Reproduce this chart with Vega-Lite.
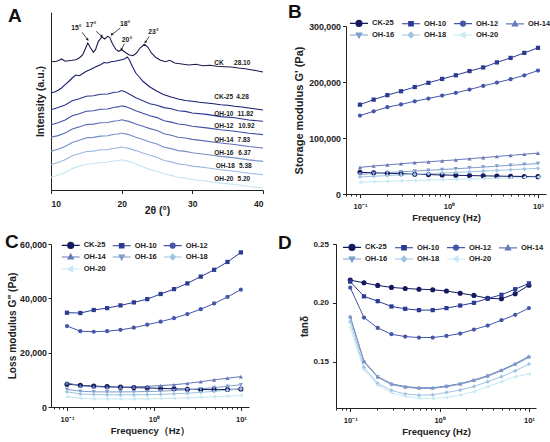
{
  "$schema": "https://vega.github.io/schema/vega-lite/v6.json",
  "padding": {"left": 5, "top": 2, "right": 2, "bottom": 2},
  "config": {
    "font": "Liberation Sans",
    "view": {"stroke": null},
    "axis": {
      "grid": false,
      "domainColor": "#222222",
      "domainWidth": 1,
      "tickColor": "#222222",
      "tickWidth": 1,
      "labelFont": "Liberation Sans",
      "labelFontWeight": "bold",
      "labelColor": "#222222",
      "labelFontSize": 8.8,
      "titleFont": "Liberation Sans",
      "titleFontWeight": "bold",
      "titleColor": "#222222",
      "titleFontSize": 10
    },
    "legend": {
      "labelFont": "Liberation Sans",
      "labelFontWeight": "bold",
      "labelFontSize": 7.5,
      "labelColor": "#222222",
      "symbolSize": 100,
      "symbolStrokeWidth": 1.1,
      "labelOffset": 7,
      "columnPadding": 4,
      "rowPadding": 0
    },
    "title": {"font": "Liberation Sans", "fontSize": 19, "fontWeight": "bold", "color": "#111111", "anchor": "start", "frame": "group", "baseline": "bottom"}
  },
  "datasets": {
    "xrd": [
      {"s":"CK","t":10,"i":128.7},{"s":"CK","t":10.5,"i":128.3},{"s":"CK","t":11,"i":129.3},{"s":"CK","t":11.5,"i":131},{"s":"CK","t":12,"i":128.7},{"s":"CK","t":12.5,"i":129.2},{"s":"CK","t":13,"i":129.7},{"s":"CK","t":13.5,"i":130.3},{"s":"CK","t":14,"i":132},{"s":"CK","t":14.5,"i":135.3},{"s":"CK","t":14.8,"i":140.3},{"s":"CK","t":15.2,"i":147},{"s":"CK","t":15.6,"i":142},{"s":"CK","t":16,"i":137.7},{"s":"CK","t":16.3,"i":140.3},{"s":"CK","t":16.7,"i":148.7},{"s":"CK","t":17.2,"i":153},{"s":"CK","t":17.6,"i":151},{"s":"CK","t":18,"i":153.7},{"s":"CK","t":18.3,"i":152.7},{"s":"CK","t":18.7,"i":146.3},{"s":"CK","t":19.2,"i":140.3},{"s":"CK","t":19.6,"i":138.7},{"s":"CK","t":20,"i":140.3},{"s":"CK","t":20.4,"i":138.3},{"s":"CK","t":21,"i":135.3},{"s":"CK","t":21.6,"i":134.3},{"s":"CK","t":22.1,"i":137},{"s":"CK","t":22.6,"i":142},{"s":"CK","t":23.2,"i":145.7},{"s":"CK","t":23.7,"i":143},{"s":"CK","t":24.2,"i":137},{"s":"CK","t":24.8,"i":132.7},{"s":"CK","t":25.5,"i":129.7},{"s":"CK","t":26.2,"i":128.3},{"s":"CK","t":26.8,"i":129.7},{"s":"CK","t":27.5,"i":127},{"s":"CK","t":28.5,"i":126},{"s":"CK","t":29.5,"i":125},{"s":"CK","t":30.5,"i":125.7},{"s":"CK","t":31.5,"i":124.3},{"s":"CK","t":32.5,"i":124.7},{"s":"CK","t":33.5,"i":123.7},{"s":"CK","t":34.5,"i":123.3},{"s":"CK","t":35.5,"i":123},{"s":"CK","t":36.5,"i":122},{"s":"CK","t":37.5,"i":121.3},{"s":"CK","t":38.5,"i":120},{"s":"CK","t":39.5,"i":118.7},{"s":"CK","t":40,"i":118},
      {"s":"CK-25","t":10,"i":97},{"s":"CK-25","t":10.5,"i":98},{"s":"CK-25","t":11,"i":99.7},{"s":"CK-25","t":11.5,"i":102},{"s":"CK-25","t":12,"i":105.3},{"s":"CK-25","t":12.5,"i":108.5},{"s":"CK-25","t":13,"i":112},{"s":"CK-25","t":13.5,"i":115},{"s":"CK-25","t":14,"i":114.3},{"s":"CK-25","t":14.5,"i":116.5},{"s":"CK-25","t":15,"i":118.7},{"s":"CK-25","t":15.5,"i":120.3},{"s":"CK-25","t":16,"i":122},{"s":"CK-25","t":16.5,"i":123.7},{"s":"CK-25","t":17,"i":125.3},{"s":"CK-25","t":17.5,"i":127.5},{"s":"CK-25","t":18,"i":127},{"s":"CK-25","t":18.5,"i":128.3},{"s":"CK-25","t":19,"i":128.7},{"s":"CK-25","t":19.5,"i":129.5},{"s":"CK-25","t":20,"i":130.3},{"s":"CK-25","t":20.4,"i":131},{"s":"CK-25","t":20.8,"i":133},{"s":"CK-25","t":21.1,"i":130},{"s":"CK-25","t":21.5,"i":123.7},{"s":"CK-25","t":22,"i":117},{"s":"CK-25","t":22.5,"i":113},{"s":"CK-25","t":23,"i":108.7},{"s":"CK-25","t":24,"i":103},{"s":"CK-25","t":25,"i":98.7},{"s":"CK-25","t":26,"i":95.3},{"s":"CK-25","t":27,"i":93},{"s":"CK-25","t":28,"i":91},{"s":"CK-25","t":29,"i":89.5},{"s":"CK-25","t":30,"i":88.7},{"s":"CK-25","t":31,"i":87.7},{"s":"CK-25","t":32,"i":87},{"s":"CK-25","t":33,"i":86.3},{"s":"CK-25","t":34,"i":85.3},{"s":"CK-25","t":35,"i":84.7},{"s":"CK-25","t":36,"i":83.7},{"s":"CK-25","t":37,"i":83},{"s":"CK-25","t":38,"i":82},{"s":"CK-25","t":39,"i":81},{"s":"CK-25","t":40,"i":80},
      {"s":"OH-10","t":10,"i":80.3},{"s":"OH-10","t":11,"i":82.4},{"s":"OH-10","t":12,"i":85},{"s":"OH-10","t":13,"i":89.3},{"s":"OH-10","t":14,"i":91.2},{"s":"OH-10","t":15,"i":93.8},{"s":"OH-10","t":16,"i":94.2},{"s":"OH-10","t":17,"i":95.8},{"s":"OH-10","t":18,"i":96},{"s":"OH-10","t":19,"i":97.8},{"s":"OH-10","t":19.5,"i":98},{"s":"OH-10","t":20,"i":99.5},{"s":"OH-10","t":20.5,"i":98.2},{"s":"OH-10","t":21,"i":96.3},{"s":"OH-10","t":22,"i":92.2},{"s":"OH-10","t":23,"i":89.3},{"s":"OH-10","t":24,"i":86.2},{"s":"OH-10","t":25,"i":84.8},{"s":"OH-10","t":26,"i":82.4},{"s":"OH-10","t":27,"i":81.3},{"s":"OH-10","t":28,"i":79.2},{"s":"OH-10","t":29,"i":78.6},{"s":"OH-10","t":30,"i":77},{"s":"OH-10","t":32,"i":75.6},{"s":"OH-10","t":34,"i":73.4},{"s":"OH-10","t":36,"i":72.3},{"s":"OH-10","t":38,"i":70},{"s":"OH-10","t":40,"i":68.7},
      {"s":"OH-12","t":10,"i":65.3},{"s":"OH-12","t":11,"i":67.3},{"s":"OH-12","t":12,"i":70},{"s":"OH-12","t":13,"i":74.2},{"s":"OH-12","t":14,"i":76.3},{"s":"OH-12","t":15,"i":78.8},{"s":"OH-12","t":16,"i":79.2},{"s":"OH-12","t":17,"i":80.8},{"s":"OH-12","t":18,"i":81},{"s":"OH-12","t":19,"i":82.7},{"s":"OH-12","t":19.5,"i":83.1},{"s":"OH-12","t":20,"i":84.3},{"s":"OH-12","t":20.5,"i":83.4},{"s":"OH-12","t":21,"i":82.2},{"s":"OH-12","t":22,"i":79.3},{"s":"OH-12","t":23,"i":76.7},{"s":"OH-12","t":24,"i":74.3},{"s":"OH-12","t":25,"i":72.4},{"s":"OH-12","t":26,"i":69.2},{"s":"OH-12","t":27,"i":67.9},{"s":"OH-12","t":28,"i":66},{"s":"OH-12","t":29,"i":65.2},{"s":"OH-12","t":30,"i":63.8},{"s":"OH-12","t":32,"i":62.1},{"s":"OH-12","t":34,"i":60.2},{"s":"OH-12","t":36,"i":58.8},{"s":"OH-12","t":38,"i":56.8},{"s":"OH-12","t":40,"i":55.4},
      {"s":"OH-14","t":10,"i":52.7},{"s":"OH-14","t":11,"i":54.4},{"s":"OH-14","t":12,"i":57},{"s":"OH-14","t":13,"i":61},{"s":"OH-14","t":14,"i":63.1},{"s":"OH-14","t":15,"i":65.4},{"s":"OH-14","t":16,"i":65.9},{"s":"OH-14","t":17,"i":67.2},{"s":"OH-14","t":18,"i":67.5},{"s":"OH-14","t":19,"i":69},{"s":"OH-14","t":19.5,"i":69.3},{"s":"OH-14","t":20,"i":70.3},{"s":"OH-14","t":20.5,"i":69.4},{"s":"OH-14","t":21,"i":68.6},{"s":"OH-14","t":22,"i":66.1},{"s":"OH-14","t":23,"i":63.7},{"s":"OH-14","t":24,"i":61.4},{"s":"OH-14","t":25,"i":59.5},{"s":"OH-14","t":26,"i":56.2},{"s":"OH-14","t":27,"i":54.8},{"s":"OH-14","t":28,"i":52.8},{"s":"OH-14","t":29,"i":52},{"s":"OH-14","t":30,"i":50.6},{"s":"OH-14","t":32,"i":48.9},{"s":"OH-14","t":34,"i":47},{"s":"OH-14","t":36,"i":45.5},{"s":"OH-14","t":38,"i":43.5},{"s":"OH-14","t":40,"i":42},
      {"s":"OH-16","t":10,"i":38.7},{"s":"OH-16","t":11,"i":40.8},{"s":"OH-16","t":12,"i":43.6},{"s":"OH-16","t":13,"i":47.6},{"s":"OH-16","t":14,"i":49.8},{"s":"OH-16","t":15,"i":52.1},{"s":"OH-16","t":16,"i":52.6},{"s":"OH-16","t":17,"i":53.9},{"s":"OH-16","t":18,"i":54.2},{"s":"OH-16","t":19,"i":55.7},{"s":"OH-16","t":19.5,"i":56},{"s":"OH-16","t":20,"i":57},{"s":"OH-16","t":20.5,"i":56.1},{"s":"OH-16","t":21,"i":55.4},{"s":"OH-16","t":22,"i":52.8},{"s":"OH-16","t":23,"i":50.4},{"s":"OH-16","t":24,"i":48},{"s":"OH-16","t":25,"i":46.1},{"s":"OH-16","t":26,"i":42.8},{"s":"OH-16","t":27,"i":41.4},{"s":"OH-16","t":28,"i":39.4},{"s":"OH-16","t":29,"i":38.6},{"s":"OH-16","t":30,"i":37.2},{"s":"OH-16","t":32,"i":35.5},{"s":"OH-16","t":34,"i":33.6},{"s":"OH-16","t":36,"i":32.1},{"s":"OH-16","t":38,"i":30.1},{"s":"OH-16","t":40,"i":28.6},
      {"s":"OH-18","t":10,"i":25.3},{"s":"OH-18","t":11,"i":27.4},{"s":"OH-18","t":12,"i":30.2},{"s":"OH-18","t":13,"i":34.2},{"s":"OH-18","t":14,"i":36.3},{"s":"OH-18","t":15,"i":38.5},{"s":"OH-18","t":16,"i":38.9},{"s":"OH-18","t":17,"i":40.2},{"s":"OH-18","t":18,"i":40.4},{"s":"OH-18","t":19,"i":41.8},{"s":"OH-18","t":19.5,"i":42.1},{"s":"OH-18","t":20,"i":43},{"s":"OH-18","t":20.5,"i":42.2},{"s":"OH-18","t":21,"i":41.6},{"s":"OH-18","t":22,"i":39.4},{"s":"OH-18","t":23,"i":37},{"s":"OH-18","t":24,"i":34.7},{"s":"OH-18","t":25,"i":32.8},{"s":"OH-18","t":26,"i":29.5},{"s":"OH-18","t":27,"i":28.1},{"s":"OH-18","t":28,"i":26.1},{"s":"OH-18","t":29,"i":25.3},{"s":"OH-18","t":30,"i":23.9},{"s":"OH-18","t":32,"i":22.2},{"s":"OH-18","t":34,"i":20.3},{"s":"OH-18","t":36,"i":18.8},{"s":"OH-18","t":38,"i":16.8},{"s":"OH-18","t":40,"i":15.3},
      {"s":"OH-20","t":10,"i":12.7},{"s":"OH-20","t":11,"i":14.7},{"s":"OH-20","t":12,"i":17.5},{"s":"OH-20","t":13,"i":21.4},{"s":"OH-20","t":14,"i":23.6},{"s":"OH-20","t":15,"i":25.8},{"s":"OH-20","t":16,"i":26.3},{"s":"OH-20","t":17,"i":27.5},{"s":"OH-20","t":18,"i":27.8},{"s":"OH-20","t":19,"i":29.2},{"s":"OH-20","t":19.5,"i":29.5},{"s":"OH-20","t":20,"i":30.3},{"s":"OH-20","t":20.5,"i":29.4},{"s":"OH-20","t":21,"i":28.6},{"s":"OH-20","t":22,"i":26.1},{"s":"OH-20","t":23,"i":23.2},{"s":"OH-20","t":24,"i":20.4},{"s":"OH-20","t":25,"i":18.7},{"s":"OH-20","t":26,"i":16},{"s":"OH-20","t":27,"i":14.6},{"s":"OH-20","t":28,"i":12.7},{"s":"OH-20","t":29,"i":11.9},{"s":"OH-20","t":30,"i":10.5},{"s":"OH-20","t":32,"i":8.9},{"s":"OH-20","t":34,"i":6.9},{"s":"OH-20","t":36,"i":5.6},{"s":"OH-20","t":38,"i":3.5},{"s":"OH-20","t":40,"i":2}
    ],
    "xrdLabels": [
      {"s":"CK","v":"28.10","lx":33.1,"vx":35.9,"ly":127},
      {"s":"CK-25","v":"4.28","lx":33.1,"vx":36.2,"ly":92.7},
      {"s":"OH-10","v":"11.82","lx":33.1,"vx":36.4,"ly":76},
      {"s":"OH-12","v":"10.92","lx":33.1,"vx":36.5,"ly":63.7},
      {"s":"OH-14","v":"7.83","lx":33.1,"vx":36.4,"ly":49.7},
      {"s":"OH-16","v":"6.37","lx":33.1,"vx":36.5,"ly":37},
      {"s":"OH-18","v":"5.38","lx":33.3,"vx":36.6,"ly":23.7},
      {"s":"OH-20","v":"5.20","lx":33.1,"vx":36.4,"ly":11}
    ],
    "peaks": [
      {"label":"15°","tx":13.6,"ty":162,"x1":14.4,"y1":157.7,"x2":15.2,"y2":150.3},
      {"label":"17°","tx":15.66,"ty":164.7,"x1":16.4,"y1":158.7,"x2":17.2,"y2":153.7},
      {"label":"18°","tx":20.5,"ty":165.7,"x1":19.8,"y1":162,"x2":18.6,"y2":155.3},
      {"label":"20°","tx":20.75,"ty":150.3,"x1":20.4,"y1":146.3,"x2":19.95,"y2":140.5},
      {"label":"23°","tx":24.5,"ty":157.7,"x1":23.9,"y1":153.7,"x2":23.35,"y2":147.7}
    ],
    "rheo": [
      {"s":"CK-25","f":0.1,"g1":38700,"g2":8400,"t":0.2193},{"s":"CK-25","f":0.1425,"g1":37800,"g2":8000,"t":0.2170},{"s":"CK-25","f":0.2031,"g1":37000,"g2":7700,"t":0.2148},{"s":"CK-25","f":0.2894,"g1":36200,"g2":7500,"t":0.2131},{"s":"CK-25","f":0.4125,"g1":35400,"g2":7300,"t":0.2122},{"s":"CK-25","f":0.5878,"g1":34600,"g2":7150,"t":0.2116},{"s":"CK-25","f":0.8377,"g1":34000,"g2":7000,"t":0.2111},{"s":"CK-25","f":1.194,"g1":33400,"g2":6850,"t":0.2100},{"s":"CK-25","f":1.701,"g1":32900,"g2":6700,"t":0.2082},{"s":"CK-25","f":2.424,"g1":32400,"g2":6550,"t":0.2063},{"s":"CK-25","f":3.455,"g1":32000,"g2":6450,"t":0.2038},{"s":"CK-25","f":4.924,"g1":31600,"g2":6400,"t":0.2034},{"s":"CK-25","f":7.017,"g1":31300,"g2":6450,"t":0.2077},{"s":"CK-25","f":10,"g1":31000,"g2":6600,"t":0.2150},
      {"s":"OH-10","f":0.1,"g1":159500,"g2":34700,"t":0.2180},{"s":"OH-10","f":0.1425,"g1":168500,"g2":34600,"t":0.2055},{"s":"OH-10","f":0.2031,"g1":176500,"g2":35700,"t":0.2014},{"s":"OH-10","f":0.2894,"g1":183500,"g2":36400,"t":0.1969},{"s":"OH-10","f":0.4125,"g1":191000,"g2":37400,"t":0.1949},{"s":"OH-10","f":0.5878,"g1":198500,"g2":38500,"t":0.1938},{"s":"OH-10","f":0.8377,"g1":205500,"g2":39700,"t":0.1938},{"s":"OH-10","f":1.194,"g1":212000,"g2":41600,"t":0.1955},{"s":"OH-10","f":1.701,"g1":219500,"g2":43400,"t":0.1977},{"s":"OH-10","f":2.424,"g1":226000,"g2":45500,"t":0.2000},{"s":"OH-10","f":3.455,"g1":235000,"g2":48000,"t":0.2037},{"s":"OH-10","f":4.924,"g1":243000,"g2":50500,"t":0.2068},{"s":"OH-10","f":7.017,"g1":252000,"g2":53400,"t":0.2116},{"s":"OH-10","f":10,"g1":261000,"g2":56900,"t":0.2165},
      {"s":"OH-12","f":0.1,"g1":140000,"g2":29800,"t":0.2129},{"s":"OH-12","f":0.1425,"g1":147700,"g2":27900,"t":0.1875},{"s":"OH-12","f":0.2031,"g1":155000,"g2":27700,"t":0.1787},{"s":"OH-12","f":0.2894,"g1":160000,"g2":27900,"t":0.1733},{"s":"OH-12","f":0.4125,"g1":165600,"g2":28400,"t":0.1713},{"s":"OH-12","f":0.5878,"g1":170500,"g2":29200,"t":0.1705},{"s":"OH-12","f":0.8377,"g1":175800,"g2":30300,"t":0.1705},{"s":"OH-12","f":1.194,"g1":180600,"g2":31400,"t":0.1719},{"s":"OH-12","f":1.701,"g1":186600,"g2":32700,"t":0.1739},{"s":"OH-12","f":2.424,"g1":193000,"g2":34200,"t":0.1773},{"s":"OH-12","f":3.455,"g1":199000,"g2":36000,"t":0.1807},{"s":"OH-12","f":4.924,"g1":205000,"g2":38100,"t":0.1852},{"s":"OH-12","f":7.017,"g1":212000,"g2":40500,"t":0.1898},{"s":"OH-12","f":10,"g1":220500,"g2":43200,"t":0.1955},
      {"s":"OH-14","f":0.1,"g1":47500,"g2":8900,"t":0.1883},{"s":"OH-14","f":0.1425,"g1":50000,"g2":7800,"t":0.1505},{"s":"OH-14","f":0.2031,"g1":52000,"g2":7500,"t":0.1372},{"s":"OH-14","f":0.2894,"g1":54000,"g2":7300,"t":0.1312},{"s":"OH-14","f":0.4125,"g1":56000,"g2":7300,"t":0.1288},{"s":"OH-14","f":0.5878,"g1":57500,"g2":7400,"t":0.1278},{"s":"OH-14","f":0.8377,"g1":59300,"g2":7600,"t":0.1278},{"s":"OH-14","f":1.194,"g1":61000,"g2":7900,"t":0.1293},{"s":"OH-14","f":1.701,"g1":63000,"g2":8200,"t":0.1313},{"s":"OH-14","f":2.424,"g1":65000,"g2":8700,"t":0.1344},{"s":"OH-14","f":3.455,"g1":67000,"g2":9300,"t":0.1381},{"s":"OH-14","f":4.924,"g1":69000,"g2":10000,"t":0.1429},{"s":"OH-14","f":7.017,"g1":71000,"g2":10600,"t":0.1482},{"s":"OH-14","f":10,"g1":73000,"g2":11200,"t":0.1545},
      {"s":"OH-16","f":0.1,"g1":35000,"g2":6500,"t":0.1875},{"s":"OH-16","f":0.1425,"g1":36600,"g2":5800,"t":0.1495},{"s":"OH-16","f":0.2031,"g1":38200,"g2":5600,"t":0.1368},{"s":"OH-16","f":0.2894,"g1":39700,"g2":5550,"t":0.1305},{"s":"OH-16","f":0.4125,"g1":41000,"g2":5550,"t":0.1282},{"s":"OH-16","f":0.5878,"g1":42300,"g2":5600,"t":0.1272},{"s":"OH-16","f":0.8377,"g1":43700,"g2":5700,"t":0.1272},{"s":"OH-16","f":1.194,"g1":45100,"g2":5850,"t":0.1287},{"s":"OH-16","f":1.701,"g1":46600,"g2":6050,"t":0.1308},{"s":"OH-16","f":2.424,"g1":48100,"g2":6350,"t":0.1338},{"s":"OH-16","f":3.455,"g1":49700,"g2":6700,"t":0.1375},{"s":"OH-16","f":4.924,"g1":51200,"g2":7100,"t":0.1422},{"s":"OH-16","f":7.017,"g1":52800,"g2":7650,"t":0.1475},{"s":"OH-16","f":10,"g1":54300,"g2":8200,"t":0.1535},
      {"s":"OH-18","f":0.1,"g1":30500,"g2":5600,"t":0.1840},{"s":"OH-18","f":0.1425,"g1":31700,"g2":4800,"t":0.1450},{"s":"OH-18","f":0.2031,"g1":32900,"g2":4600,"t":0.1315},{"s":"OH-18","f":0.2894,"g1":34100,"g2":4500,"t":0.1255},{"s":"OH-18","f":0.4125,"g1":35200,"g2":4500,"t":0.1225},{"s":"OH-18","f":0.5878,"g1":36300,"g2":4500,"t":0.1215},{"s":"OH-18","f":0.8377,"g1":37400,"g2":4550,"t":0.1218},{"s":"OH-18","f":1.194,"g1":38500,"g2":4650,"t":0.1238},{"s":"OH-18","f":1.701,"g1":39700,"g2":4850,"t":0.1258},{"s":"OH-18","f":2.424,"g1":40900,"g2":5100,"t":0.1289},{"s":"OH-18","f":3.455,"g1":42100,"g2":5400,"t":0.1330},{"s":"OH-18","f":4.924,"g1":43300,"g2":5750,"t":0.1372},{"s":"OH-18","f":7.017,"g1":44600,"g2":6200,"t":0.1422},{"s":"OH-18","f":10,"g1":45800,"g2":6700,"t":0.1480},
      {"s":"OH-20","f":0.1,"g1":21000,"g2":3800,"t":0.1790},{"s":"OH-20","f":0.1425,"g1":22000,"g2":3200,"t":0.1430},{"s":"OH-20","f":0.2031,"g1":22800,"g2":3000,"t":0.1300},{"s":"OH-20","f":0.2894,"g1":23500,"g2":2950,"t":0.1235},{"s":"OH-20","f":0.4125,"g1":24200,"g2":2950,"t":0.1205},{"s":"OH-20","f":0.5878,"g1":24900,"g2":2950,"t":0.1190},{"s":"OH-20","f":0.8377,"g1":25500,"g2":3000,"t":0.1186},{"s":"OH-20","f":1.194,"g1":26100,"g2":3100,"t":0.1195},{"s":"OH-20","f":1.701,"g1":26800,"g2":3200,"t":0.1216},{"s":"OH-20","f":2.424,"g1":27400,"g2":3350,"t":0.1245},{"s":"OH-20","f":3.455,"g1":28100,"g2":3550,"t":0.1287},{"s":"OH-20","f":4.924,"g1":28800,"g2":3750,"t":0.1330},{"s":"OH-20","f":7.017,"g1":29500,"g2":4000,"t":0.1372},{"s":"OH-20","f":10,"g1":30200,"g2":4250,"t":0.1395}
    ]
  },
  "spacing": 10,
  "align": "none",
  "resolve": {"scale": {"color": "independent"}, "legend": {"color": "independent"}},
  "vconcat": [
    {
      "spacing": 22,
      "align": "none",
      "resolve": {"scale": {"color": "independent"}, "legend": {"color": "independent"}},
      "hconcat": [
        {
          "width": 212,
          "height": 178,
          "title": {"text": "A", "offset": -13.6, "dx": -43},
          "layer": [
            {
              "data": {"name": "xrd"},
              "mark": {"type": "line", "strokeWidth": 1.1},
              "encoding": {
                "x": {"field": "t", "type": "quantitative", "scale": {"domain": [10, 40], "nice": false},
                  "axis": {"title": "2θ (°)", "values": [10, 12.5, 15, 17.5, 20, 22.5, 25, 27.5, 30, 32.5, 35, 37.5, 40], "labelExpr": "datum.value % 5 == 0 ? datum.label : ''", "tickSize": {"condition": {"test": "datum.value % 5 == 0", "value": 3.5}, "value": 2}, "labelOverlap": false, "labelFontSize": 8.5, "labelPadding": 6, "titlePadding": -3, "titleFontSize": 10.5}},
                "y": {"field": "i", "type": "quantitative", "scale": {"domain": [0, 178], "nice": false},
                  "axis": {"title": "Intensity (a.u.)", "labels": false, "ticks": false, "titlePadding": 6, "titleFontSize": 10.5}},
                "color": {"field": "s", "type": "nominal", "legend": null,
                  "scale": {"domain": ["CK", "CK-25", "OH-10", "OH-12", "OH-14", "OH-16", "OH-18", "OH-20"],
                    "range": ["#1c1c4a", "#161d6e", "#28358f", "#3f4fa3", "#5a6fb3", "#7590c6", "#98b8dc", "#c3e6f0"]}}
              }
            },
            {
              "data": {"name": "xrdLabels"},
              "mark": {"type": "text", "align": "left", "baseline": "middle", "fontSize": 6.5, "fontWeight": "bold", "color": "#1a1a1a"},
              "encoding": {
                "x": {"field": "lx", "type": "quantitative"},
                "y": {"field": "ly", "type": "quantitative"},
                "text": {"field": "s", "type": "nominal"}
              }
            },
            {
              "data": {"name": "xrdLabels"},
              "mark": {"type": "text", "align": "left", "baseline": "middle", "fontSize": 6.5, "fontWeight": "bold", "color": "#1a1a1a"},
              "encoding": {
                "x": {"field": "vx", "type": "quantitative"},
                "y": {"field": "ly", "type": "quantitative"},
                "text": {"field": "v", "type": "nominal"}
              }
            },
            {
              "data": {"name": "peaks"},
              "mark": {"type": "rule", "strokeWidth": 0.8, "color": "#1a1a1a"},
              "encoding": {
                "x": {"field": "x1", "type": "quantitative"},
                "y": {"field": "y1", "type": "quantitative"},
                "x2": {"field": "x2"},
                "y2": {"field": "y2"}
              }
            },
            {
              "data": {"name": "peaks"},
              "mark": {"type": "point", "shape": "triangle-up", "filled": true, "size": 9, "opacity": 1, "color": "#1a1a1a"},
              "encoding": {
                "x": {"field": "x2", "type": "quantitative"},
                "y": {"field": "y2", "type": "quantitative"},
                "angle": {"condition": {"test": "datum.label == '15°' || datum.label == '17°'", "value": 137}, "value": 215}
              }
            },
            {
              "data": {"name": "peaks"},
              "mark": {"type": "text", "baseline": "middle", "fontSize": 6.8, "fontWeight": "bold", "color": "#1a1a1a"},
              "encoding": {
                "x": {"field": "tx", "type": "quantitative"},
                "y": {"field": "ty", "type": "quantitative"},
                "text": {"field": "label", "type": "nominal"}
              }
            }
          ]
        },
        {
          "width": 200,
          "height": 182,
          "title": {"text": "B", "offset": -9.6, "dx": -58},
          "data": {"name": "rheo"},
          "encoding": {
            "x": {"field": "f", "type": "quantitative", "scale": {"type": "log", "domain": [0.0697, 12.3], "nice": false},
              "axis": {"title": "Frequency (Hz)", "values": [0.07, 0.08, 0.09, 0.1, 0.2, 0.3, 0.4, 0.5, 0.6, 0.7, 0.8, 0.9, 1, 2, 3, 4, 5, 6, 7, 8, 9, 10], "labelExpr": "datum.value == 0.1 ? '10⁻¹' : datum.value == 1 ? '10⁰' : datum.value == 10 ? '10¹' : ''", "labelOverlap": false, "tickSize": {"condition": {"test": "datum.value == 0.1 || datum.value == 1 || datum.value == 10", "value": 3.5}, "value": 2}, "labelFontSize": 7.5, "labelPadding": 5, "titlePadding": 2, "titleFontSize": 9.5}},
            "y": {"field": "g1", "type": "quantitative", "scale": {"domain": [0, 300000], "range": [182, 14], "nice": false},
              "axis": {"title": "Storage modulus G' (Pa)", "values": [0, 100000, 200000, 300000], "format": ",d", "tickSize": 3.5, "labelPadding": 2, "titlePadding": 4, "titleFontSize": 11}},
            "color": {"field": "s", "type": "nominal",
              "scale": {"domain": ["CK-25", "OH-10", "OH-12", "OH-14", "OH-16", "OH-18", "OH-20"], "range": ["#141a5e", "#2c3a94", "#4656a8", "#6679ba", "#7f9dcc", "#9fc4e2", "#c6e9f3"]},
              "legend": {"title": null, "orient": "none", "direction": "horizontal", "legendX": 7, "legendY": 5, "columns": 4,
                "encode": {"symbols": {"update": {
                  "shape": {"signal": "['M-1.8,0H1.8M-0.6,0A0.6,0.6,0,1,1,0.6,0A0.6,0.6,0,1,1,-0.6,0Z','M-1.8,0H1.8M-0.45,-0.45H0.45V0.45H-0.45Z','M-1.8,0H1.8M-0.5,0A0.5,0.5,0,1,1,0.5,0A0.5,0.5,0,1,1,-0.5,0Z','M-1.8,0H1.8M0,-0.6L0.55,0.4H-0.55Z','M-1.8,0H1.8M0,0.6L0.55,-0.4H-0.55Z','M-1.8,0H1.8M0,-0.6L0.55,0L0,0.6L-0.55,0Z','M-1.8,0H1.8M-0.6,0L0.4,-0.55V0.55Z'][indexof(['CK-25','OH-10','OH-12','OH-14','OH-16','OH-18','OH-20'],datum.value)]"},
                  "fill": {"signal": "['#141a5e','#2c3a94','#4656a8','#6679ba','#7f9dcc','#9fc4e2','#c6e9f3'][indexof(['CK-25','OH-10','OH-12','OH-14','OH-16','OH-18','OH-20'],datum.value)]"},
                  "stroke": {"signal": "['#141a5e','#2c3a94','#4656a8','#6679ba','#7f9dcc','#9fc4e2','#c6e9f3'][indexof(['CK-25','OH-10','OH-12','OH-14','OH-16','OH-18','OH-20'],datum.value)]"},
                  "strokeWidth": {"value": 1.1},
                  "opacity": {"value": 1}
                }}}}}
          },
          "layer": [
            {"mark": {"type": "line", "strokeWidth": 1}},
            {"mark": {"type": "point", "filled": true, "opacity": 1},
              "encoding": {
                "shape": {"condition": [{"test": "datum.s == 'OH-10'", "value": "square"}, {"test": "datum.s == 'OH-14'", "value": "triangle-up"}, {"test": "datum.s == 'OH-16'", "value": "triangle-down"}, {"test": "datum.s == 'OH-18'", "value": "diamond"}, {"test": "datum.s == 'OH-20'", "value": "triangle-left"}], "value": "circle"},
                "size": {"condition": {"test": "datum.s == 'CK-25'", "value": 26}, "value": 18}
              }}
          ]
        }
      ]
    },
    {
      "spacing": 29,
      "align": "none",
      "resolve": {"scale": {"color": "independent"}, "legend": {"color": "independent"}},
      "hconcat": [
        {
          "width": 198,
          "height": 163,
          "title": {"text": "C", "offset": -12.6, "dx": -46},
          "data": {"name": "rheo"},
          "encoding": {
            "x": {"field": "f", "type": "quantitative", "scale": {"type": "log", "domain": [0.0655, 12.4], "nice": false},
              "axis": {"title": "Frequency（Hz）", "values": [0.07, 0.08, 0.09, 0.1, 0.2, 0.3, 0.4, 0.5, 0.6, 0.7, 0.8, 0.9, 1, 2, 3, 4, 5, 6, 7, 8, 9, 10], "labelExpr": "datum.value == 0.1 ? '10⁻¹' : datum.value == 1 ? '10⁰' : datum.value == 10 ? '10¹' : ''", "labelOverlap": false, "tickSize": {"condition": {"test": "datum.value == 0.1 || datum.value == 1 || datum.value == 10", "value": 3.5}, "value": 2}, "labelFontSize": 7.5, "labelPadding": 5, "titlePadding": 2, "titleFontSize": 9.5}},
            "y": {"field": "g2", "type": "quantitative", "scale": {"domain": [0, 60000], "nice": false},
              "axis": {"title": "Loss modulus G\" (Pa)", "values": [0, 20000, 40000, 60000], "format": ",d", "tickSize": 3, "labelPadding": 1.5, "titlePadding": 2, "titleFontSize": 10.2}},
            "color": {"field": "s", "type": "nominal",
              "scale": {"domain": ["CK-25", "OH-10", "OH-12", "OH-14", "OH-16", "OH-18", "OH-20"], "range": ["#141a5e", "#2c3a94", "#4656a8", "#6679ba", "#7f9dcc", "#9fc4e2", "#c6e9f3"]},
              "legend": {"title": null, "orient": "none", "direction": "horizontal", "legendX": 13.7, "legendY": -5, "columns": 3, "columnPadding": 3,
                "encode": {"symbols": {"update": {
                  "shape": {"signal": "['M-1.8,0H1.8M-0.6,0A0.6,0.6,0,1,1,0.6,0A0.6,0.6,0,1,1,-0.6,0Z','M-1.8,0H1.8M-0.45,-0.45H0.45V0.45H-0.45Z','M-1.8,0H1.8M-0.5,0A0.5,0.5,0,1,1,0.5,0A0.5,0.5,0,1,1,-0.5,0Z','M-1.8,0H1.8M0,-0.6L0.55,0.4H-0.55Z','M-1.8,0H1.8M0,0.6L0.55,-0.4H-0.55Z','M-1.8,0H1.8M0,-0.6L0.55,0L0,0.6L-0.55,0Z','M-1.8,0H1.8M-0.6,0L0.4,-0.55V0.55Z'][indexof(['CK-25','OH-10','OH-12','OH-14','OH-16','OH-18','OH-20'],datum.value)]"},
                  "fill": {"signal": "['#141a5e','#2c3a94','#4656a8','#6679ba','#7f9dcc','#9fc4e2','#c6e9f3'][indexof(['CK-25','OH-10','OH-12','OH-14','OH-16','OH-18','OH-20'],datum.value)]"},
                  "stroke": {"signal": "['#141a5e','#2c3a94','#4656a8','#6679ba','#7f9dcc','#9fc4e2','#c6e9f3'][indexof(['CK-25','OH-10','OH-12','OH-14','OH-16','OH-18','OH-20'],datum.value)]"},
                  "strokeWidth": {"value": 1.1},
                  "opacity": {"value": 1}
                }}}}}
          },
          "layer": [
            {"mark": {"type": "line", "strokeWidth": 1}},
            {"mark": {"type": "point", "filled": true, "opacity": 1},
              "encoding": {
                "shape": {"condition": [{"test": "datum.s == 'OH-10'", "value": "square"}, {"test": "datum.s == 'OH-14'", "value": "triangle-up"}, {"test": "datum.s == 'OH-16'", "value": "triangle-down"}, {"test": "datum.s == 'OH-18'", "value": "diamond"}, {"test": "datum.s == 'OH-20'", "value": "triangle-left"}], "value": "circle"},
                "size": {"condition": {"test": "datum.s == 'CK-25'", "value": 26}, "value": 18}
              }}
          ]
        },
        {
          "width": 200,
          "height": 164,
          "title": {"text": "D", "offset": -12.6, "dx": -58},
          "data": {"name": "rheo"},
          "encoding": {
            "x": {"field": "f", "type": "quantitative", "scale": {"type": "log", "domain": [0.0693, 12.0], "nice": false},
              "axis": {"title": "Frequency (Hz)", "values": [0.07, 0.08, 0.09, 0.1, 0.2, 0.3, 0.4, 0.5, 0.6, 0.7, 0.8, 0.9, 1, 2, 3, 4, 5, 6, 7, 8, 9, 10], "labelExpr": "datum.value == 0.1 ? '10⁻¹' : datum.value == 1 ? '10⁰' : datum.value == 10 ? '10¹' : ''", "labelOverlap": false, "tickSize": {"condition": {"test": "datum.value == 0.1 || datum.value == 1 || datum.value == 10", "value": 3.5}, "value": 2}, "labelFontSize": 7.5, "labelPadding": 5, "titlePadding": 2, "titleFontSize": 9.5}},
            "y": {"field": "t", "type": "quantitative", "scale": {"domain": [0.1106, 0.25], "nice": false, "zero": false},
              "axis": {"title": "tanδ", "values": [0.15, 0.2, 0.25], "format": ".2f", "labelFontSize": 8, "tickSize": 3.5, "labelPadding": 4, "titlePadding": 3, "titleFontSize": 10}},
            "color": {"field": "s", "type": "nominal",
              "scale": {"domain": ["CK-25", "OH-10", "OH-12", "OH-14", "OH-16", "OH-18", "OH-20"], "range": ["#141a5e", "#2c3a94", "#4656a8", "#6679ba", "#7f9dcc", "#9fc4e2", "#c6e9f3"]},
              "legend": {"title": null, "orient": "none", "direction": "horizontal", "legendX": 10, "legendY": -3, "columns": 4,
                "encode": {"symbols": {"update": {
                  "shape": {"signal": "['M-1.8,0H1.8M-0.6,0A0.6,0.6,0,1,1,0.6,0A0.6,0.6,0,1,1,-0.6,0Z','M-1.8,0H1.8M-0.45,-0.45H0.45V0.45H-0.45Z','M-1.8,0H1.8M-0.5,0A0.5,0.5,0,1,1,0.5,0A0.5,0.5,0,1,1,-0.5,0Z','M-1.8,0H1.8M0,-0.6L0.55,0.4H-0.55Z','M-1.8,0H1.8M0,0.6L0.55,-0.4H-0.55Z','M-1.8,0H1.8M0,-0.6L0.55,0L0,0.6L-0.55,0Z','M-1.8,0H1.8M-0.6,0L0.4,-0.55V0.55Z'][indexof(['CK-25','OH-10','OH-12','OH-14','OH-16','OH-18','OH-20'],datum.value)]"},
                  "fill": {"signal": "['#141a5e','#2c3a94','#4656a8','#6679ba','#7f9dcc','#9fc4e2','#c6e9f3'][indexof(['CK-25','OH-10','OH-12','OH-14','OH-16','OH-18','OH-20'],datum.value)]"},
                  "stroke": {"signal": "['#141a5e','#2c3a94','#4656a8','#6679ba','#7f9dcc','#9fc4e2','#c6e9f3'][indexof(['CK-25','OH-10','OH-12','OH-14','OH-16','OH-18','OH-20'],datum.value)]"},
                  "strokeWidth": {"value": 1.1},
                  "opacity": {"value": 1}
                }}}}}
          },
          "layer": [
            {"mark": {"type": "line", "strokeWidth": 1}},
            {"mark": {"type": "point", "filled": true, "opacity": 1},
              "encoding": {
                "shape": {"condition": [{"test": "datum.s == 'OH-10'", "value": "square"}, {"test": "datum.s == 'OH-14'", "value": "triangle-up"}, {"test": "datum.s == 'OH-16'", "value": "triangle-down"}, {"test": "datum.s == 'OH-18'", "value": "diamond"}, {"test": "datum.s == 'OH-20'", "value": "triangle-left"}], "value": "circle"},
                "size": {"condition": {"test": "datum.s == 'CK-25'", "value": 26}, "value": 18}
              }}
          ]
        }
      ]
    }
  ]
}
